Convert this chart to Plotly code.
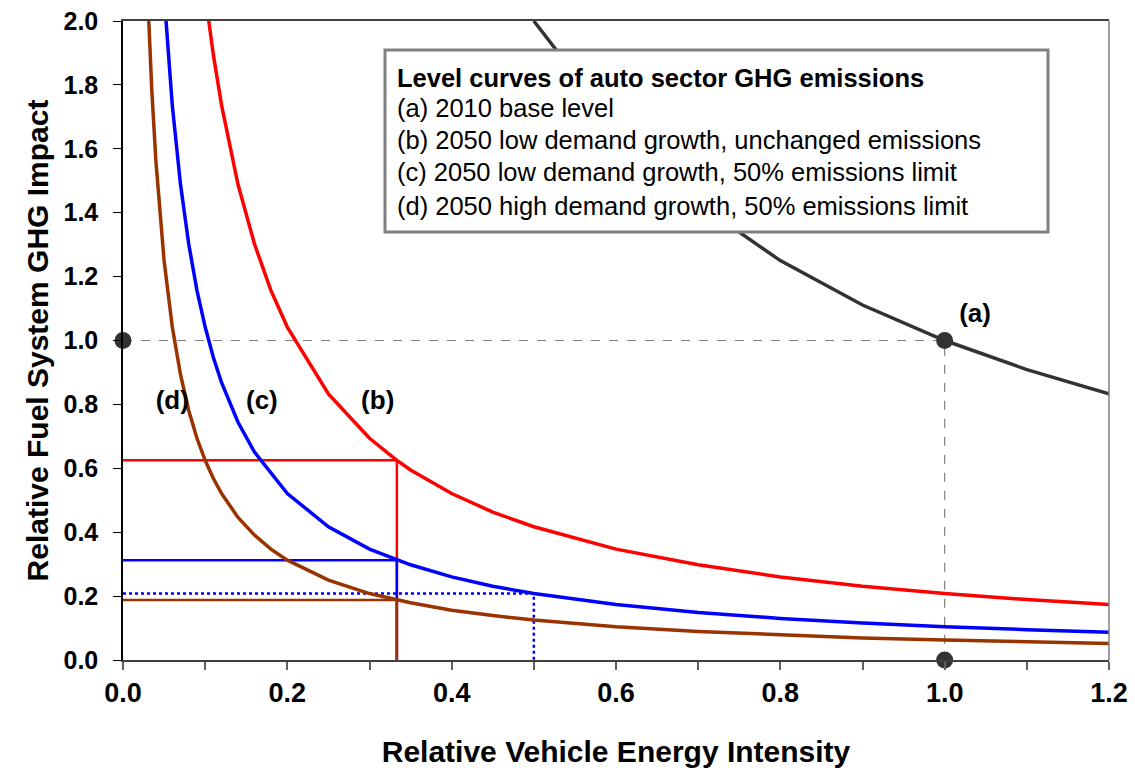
import plotly.graph_objects as go

# ---- data ----
a_x = [0.5, 0.6, 0.7, 0.8, 0.9, 1.0, 1.1, 1.2]
a_y = [2.0, 1.667, 1.429, 1.25, 1.111, 1.0, 0.909, 0.833]

b_x = [0.1, 0.11, 0.12, 0.14, 0.16, 0.18, 0.2, 0.25, 0.3, 0.3333, 0.35, 0.4, 0.45,
       0.5, 0.6, 0.7, 0.8, 0.9, 1.0, 1.1, 1.2]
b_y = [2.083, 1.894, 1.736, 1.488, 1.302, 1.157, 1.042, 0.833, 0.694, 0.625, 0.595,
       0.521, 0.463, 0.417, 0.347, 0.298, 0.260, 0.231, 0.208, 0.189, 0.174]

c_x = [0.05, 0.06, 0.07, 0.08, 0.09, 0.1, 0.11, 0.12, 0.14, 0.16, 0.2, 0.25, 0.3,
       0.3333, 0.35, 0.4, 0.45, 0.5, 0.6, 0.7, 0.8, 0.9, 1.0, 1.1, 1.2]
c_y = [2.083, 1.736, 1.488, 1.302, 1.157, 1.042, 0.947, 0.868, 0.744, 0.651, 0.521,
       0.417, 0.347, 0.3125, 0.298, 0.260, 0.231, 0.208, 0.174, 0.149, 0.130, 0.116,
       0.104, 0.095, 0.087]

d_x = [0.03, 0.035, 0.04, 0.045, 0.05, 0.06, 0.07, 0.08, 0.09, 0.1, 0.11, 0.12, 0.14,
       0.16, 0.18, 0.2, 0.25, 0.3, 0.3333, 0.35, 0.4, 0.45, 0.5, 0.6, 0.7, 0.8, 0.9,
       1.0, 1.1, 1.2]
d_y = [2.083, 1.786, 1.563, 1.389, 1.25, 1.042, 0.893, 0.781, 0.694, 0.625, 0.568,
       0.521, 0.446, 0.391, 0.347, 0.3125, 0.25, 0.208, 0.1875, 0.179, 0.156, 0.139,
       0.125, 0.104, 0.089, 0.078, 0.069, 0.0625, 0.057, 0.052]

target_x = 0.3333          # 2050 target vehicle intensity
level_b = 0.625
level_c = 0.3125
level_d = 0.1875
dotted_x = 0.5
dotted_y = 0.208

base_pts_x = [0.0, 1.0, 1.0]
base_pts_y = [1.0, 1.0, 0.0]

curve_labels = ["(a)", "(b)", "(c)", "(d)"]
label_x = [1.037, 0.31, 0.169, 0.06]
label_y = [1.077, 0.807, 0.807, 0.807]

legend_title = "Level curves of auto sector GHG emissions"
legend_items = ["(a) 2010 base level",
                "(b) 2050 low demand growth, unchanged emissions",
                "(c) 2050 low demand growth, 50% emissions limit",
                "(d) 2050 high demand growth, 50% emissions limit"]

x_ticks = [0.0, 0.2, 0.4, 0.6, 0.8, 1.0, 1.2]
y_ticks = [0.0, 0.2, 0.4, 0.6, 0.8, 1.0, 1.2, 1.4, 1.6, 1.8, 2.0]

RED = "#FF0000"
BLUE = "#0000FF"
BROWN = "#993300"
DARK = "#333333"
FONT = "Liberation Sans, Arial, sans-serif"

fig = go.Figure()

# grey dashed guides to the base point
fig.add_trace(go.Scatter(x=[0.0, 1.0, 1.0], y=[1.0, 1.0, 0.0], mode="lines",
                         line=dict(color="#808080", width=1.2, dash="dash"),
                         hoverinfo="skip"))

# target lines
fig.add_trace(go.Scatter(x=[0.0, target_x, target_x], y=[level_b, level_b, 0.0],
                         mode="lines", line=dict(color=RED, width=2.5)))
fig.add_trace(go.Scatter(x=[0.0, target_x, target_x], y=[level_c, level_c, 0.0],
                         mode="lines", line=dict(color=BLUE, width=2.5)))
fig.add_trace(go.Scatter(x=[0.0, dotted_x, dotted_x], y=[dotted_y, dotted_y, 0.0],
                         mode="lines", line=dict(color=BLUE, width=2.5, dash="dot")))
fig.add_trace(go.Scatter(x=[0.0, target_x, target_x], y=[level_d, level_d, 0.0],
                         mode="lines", line=dict(color=BROWN, width=2.5)))

# level curves
fig.add_trace(go.Scatter(x=a_x, y=a_y, mode="lines", line=dict(color=DARK, width=3.5)))
fig.add_trace(go.Scatter(x=b_x, y=b_y, mode="lines", line=dict(color=RED, width=3.5)))
fig.add_trace(go.Scatter(x=c_x, y=c_y, mode="lines", line=dict(color=BLUE, width=3.5)))
fig.add_trace(go.Scatter(x=d_x, y=d_y, mode="lines", line=dict(color=BROWN, width=3.5)))

# base points
fig.add_trace(go.Scatter(x=base_pts_x, y=base_pts_y, mode="markers",
                         marker=dict(color=DARK, size=17), cliponaxis=False))

# curve labels
fig.add_trace(go.Scatter(x=label_x, y=label_y, mode="text", text=curve_labels,
                         textfont=dict(family=FONT, size=26, color="black"),
                         texttemplate="<b>%{text}</b>", textposition="middle center",
                         cliponaxis=False))

# geometry helpers (screen pixels of the reference -> paper coords)
OX, OY = 8, 8            # page body offset
L, T = 123, 21            # plot left/top on screen
PW, PH = 986, 639         # plot width/height


def px_x(p):
    return (p - L) / float(PW)


def px_y(p):
    return (T + PH - p) / float(PH)


fig.add_shape(type="rect", xref="paper", yref="paper",
              x0=px_x(385), x1=px_x(1048), y0=px_y(232), y1=px_y(50),
              line=dict(color="#808080", width=3), fillcolor="white", layer="above")

rows_y = [78, 108, 140, 172, 206]
texts = ["<b>" + legend_title + "</b>"] + legend_items
for t, ry in zip(texts, rows_y):
    fig.add_annotation(xref="paper", yref="paper", x=px_x(395), y=px_y(ry),
                       xanchor="left", yanchor="middle", showarrow=False, text=t,
                       font=dict(family=FONT, size=25.5, color="black"))

# right frame line (grey)
fig.add_shape(type="line", xref="paper", yref="paper", x0=1, x1=1, y0=0, y1=1,
              line=dict(color="#808080", width=1.5))

W, H = 1119, 760
fig.update_layout(
    width=W, height=H,
    margin=dict(l=L - OX, r=W - (L - OX) - PW, t=T - OY, b=H - (T - OY) - PH),
    plot_bgcolor="white", paper_bgcolor="white",
    showlegend=False,
    font=dict(family=FONT, color="black"),
    xaxis=dict(range=[0, 1.2], tickvals=x_ticks, ticktext=["<b>%.1f</b>" % v for v in x_ticks],
               ticks="outside", ticklen=8, tickcolor="#606060", tickwidth=1.5,
               showgrid=False, zeroline=False, showline=True, linecolor="#404040",
               linewidth=1.5, mirror=True, tickfont=dict(size=27, family=FONT),
               ticklabeloverflow="allow", automargin=False,
               minor=dict(dtick=0.1, tick0=0, ticks="outside", ticklen=8,
                          tickcolor="#606060", tickwidth=1.5, showgrid=False),
               title=dict(text="<b>Relative Vehicle Energy Intensity</b>",
                          font=dict(size=30, family=FONT), standoff=43)),
    yaxis=dict(range=[0, 2.0], tickvals=y_ticks, ticktext=["<b>%.1f</b>" % v for v in y_ticks],
               ticks="outside", ticklen=8, tickcolor="black", tickwidth=1.2,
               showgrid=False, zeroline=False, showline=True, linecolor="black",
               linewidth=1.5, tickfont=dict(size=25, family=FONT),
               ticklabeloverflow="allow", ticklabelstandoff=10, automargin=False,
               title=dict(text="<b>Relative Fuel System GHG Impact</b>",
                          font=dict(size=30, family=FONT), standoff=6)),
)

fig.write_html("out.html")
